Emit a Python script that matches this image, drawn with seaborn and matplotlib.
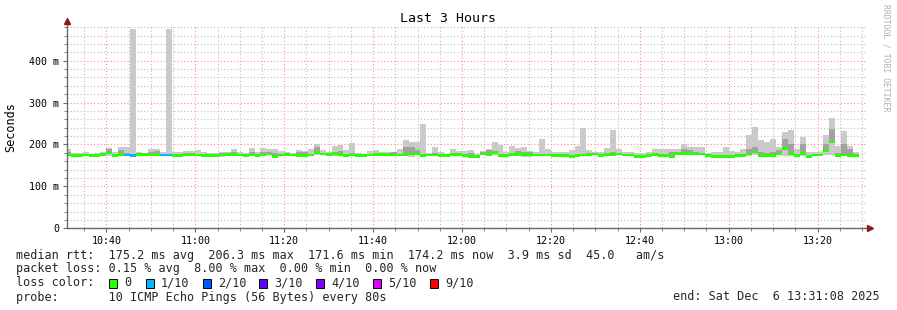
import numpy as np
import pandas as pd
import matplotlib
matplotlib.use("Agg")
import matplotlib.pyplot as plt
from matplotlib.patches import Rectangle
import seaborn as sns

# ---------------- data ----------------
title = "Last 3 Hours"
window_start = "10:31:08"
window_end = "13:31:08"
first_step = "10:30:40"
step_seconds = 80

median = [176, 173, 173, 175, 174, 174, 176, 180, 173, 176,
          175, 174, 176, 176, 175, 176, 175, 175, 173, 173,
          175, 176, 175, 174, 174, 173, 175, 176, 176, 175,
          174, 175, 174, 175, 177, 172, 175, 176, 175, 174,
          174, 175, 181, 177, 176, 178, 176, 174, 175, 173,
          174, 175, 176, 176, 176, 175, 175, 176, 177, 178,
          174, 175, 175, 174, 174, 176, 176, 174, 172, 171.6,
          177, 176, 181, 173, 173, 176, 176, 176, 176, 175,
          175, 175, 174, 174, 173, 172, 173, 175, 176, 177,
          173, 176, 176, 177, 175, 175, 172, 171.6, 174, 176,
          174, 173, 172, 178, 179, 179, 177, 177, 173, 172,
          172, 172, 171.6, 173, 174, 177, 182, 174, 174, 174,
          178, 190, 178, 174, 178, 172, 175, 175, 186, 206,
          174, 175, 174, 174.2]

smoke_low = [172, 171, 171, 172, 172, 172, 173, 172, 170, 173,
             173, 172, 173, 173, 172, 173, 173, 173, 171, 171,
             172, 173, 172, 172, 172, 171, 170, 173, 173, 172,
             172, 172, 172, 172, 174, 170, 172, 173, 172, 171,
             171, 172, 175, 174, 173, 172, 173, 171, 172, 170,
             171, 172, 173, 173, 173, 172, 172, 172, 171, 174,
             171, 172, 172, 171, 171, 173, 173, 171, 169, 169,
             174, 173, 176, 170, 170, 173, 173, 171, 171, 172,
             172, 172, 171, 171, 170, 169, 170, 172, 173, 174,
             170, 173, 173, 174, 172, 172, 170, 169, 171, 173,
             171, 170, 170, 174, 175, 175, 174, 174, 171, 170,
             170, 170, 169, 171, 172, 172, 174, 171, 171, 171,
             174, 172, 173, 171, 173, 170, 172, 172, 174, 174,
             171, 172, 171, 171]

smoke_top = [189, 179, 180, 181, 178, 179, 182, 192, 182, 195,
             193, 476, 181, 180, 189, 189, 182, 476, 182, 183,
             184, 184, 187, 182, 180, 179, 182, 183, 189, 181,
             180, 191, 181, 192, 190, 190, 184, 181, 180, 186,
             184, 190, 200, 186, 181, 197, 198, 188, 204, 179,
             177, 185, 186, 182, 182, 181, 190, 210, 205, 205,
             250, 179, 193, 181, 177, 190, 185, 185, 187, 177,
             184, 189, 207, 198, 182, 197, 192, 194, 185, 182,
             213, 189, 181, 182, 181, 186, 197, 239, 186, 183,
             181, 192, 234, 189, 181, 181, 179, 179, 181, 190,
             190, 190, 189, 189, 201, 195, 195, 195, 179, 181,
             182, 193, 185, 181, 189, 223, 241, 211, 205, 213,
             193, 229, 234, 189, 217, 183, 182, 183, 223, 262,
             197, 231, 197, 182]

smoke_mid = [183, 176, 175, 177, 176, 176, 178, 190, 176, 186,
             180, 178, 178, 178, 183, 184, 177, 178, 175, 175,
             180, 178, 177, 176, 176, 175, 179, 178, 182, 177,
             176, 182, 176, 183, 182, 180, 177, 178, 177, 181,
             181, 177, 193, 179, 178, 182, 184, 177, 179, 175,
             176, 177, 180, 178, 178, 182, 178, 193, 194, 188,
             177, 177, 180, 176, 176, 178, 178, 177, 180, 174,
             182, 186, 184, 177, 176, 179, 184, 182, 182, 177,
             178, 178, 176, 176, 175, 174, 176, 178, 178, 179,
             176, 178, 182, 179, 177, 177, 174, 174, 176, 178,
             177, 176, 182, 182, 189, 186, 182, 180, 175, 174,
             174, 176, 174, 175, 177, 189, 193, 182, 180, 181,
             186, 212, 200, 177, 200, 175, 177, 177, 200, 237,
             180, 200, 189, 178]

loss = [0] * 134
for _k in (10, 11, 16, 17):
    loss[_k] = 1

loss_labels = ["0", "1/10", "2/10", "3/10", "4/10", "5/10", "9/10"]
loss_colors = ["#26ff00", "#00b8ff", "#0059ff", "#5e00ff", "#7e00ff", "#dd00ff", "#ff0000"]

y_ticks = [0, 100, 200, 300, 400]
y_ticklabels = ["0", "100 m", "200 m", "300 m", "400 m"]
x_ticklabels = ["10:40", "11:00", "11:20", "11:40", "12:00", "12:20", "12:40", "13:00", "13:20"]

line_rtt = "median rtt:  175.2 ms avg  206.3 ms max  171.6 ms min  174.2 ms now  3.9 ms sd  45.0   am/s"
line_loss = "packet loss: 0.15 % avg  8.00 % max  0.00 % min  0.00 % now"
line_color = "loss color:"
line_probe = "probe:       10 ICMP Echo Pings (56 Bytes) every 80s"
line_end = "end: Sat Dec  6 13:31:08 2025"
watermark = "RRDTOOL / TOBI OETIKER"
ylabel = "Seconds"

# ---------------- helpers ----------------
def to_min(s):
    h, m, sec = (int(v) for v in s.split(":"))
    return h * 60 + m + sec / 60.0 - 600.0  # minutes after 10:00


n = len(median)
t_first = to_min(first_step)
edges = t_first + np.arange(n + 1) * step_seconds / 60.0
starts = edges[:-1]
width = step_seconds / 60.0

df = pd.DataFrame({"t": starts, "median": median, "low": smoke_low,
                   "top": smoke_top, "mid": smoke_mid, "loss": loss})
df["color"] = [loss_colors[l] for l in loss]

# ---------------- figure ----------------
sns.set_theme(style="white")
mono = "DejaVu Sans Mono"
plt.rcParams["font.family"] = [mono, "DejaVu Sans"]

W, H = 897, 310
fig = plt.figure(figsize=(W / 100, H / 100), dpi=100)
fig.patch.set_facecolor("white")
ax_left, ax_right, ax_bottom, ax_top = 67, 867, 228.3, 26.3
ax = fig.add_axes([ax_left / W, (H - ax_bottom) / H,
                   (ax_right - ax_left) / W, (ax_bottom - ax_top) / H])
ax.set_facecolor("white")

x0, x1 = to_min(window_start), to_min(window_end)

# grid
ax.set_yticks(y_ticks)
ax.set_yticklabels(y_ticklabels)
ax.set_yticks(np.arange(0, 481, 20), minor=True)
maj_x = [to_min(l + ":00") for l in x_ticklabels]
ax.set_xticks(maj_x)
ax.set_xticklabels(x_ticklabels)
ax.set_xticks(np.arange(35, 211, 5), minor=True)
ax.grid(which="minor", color="#bdbdbd", linestyle=(0, (1, 2)), linewidth=0.8)
ax.grid(which="major", color="#ff8c8c", linestyle=(0, (1, 2)), linewidth=0.8)
ax.set_axisbelow(True)

# smoke
ax.bar(df["t"], df["top"] - df["low"], bottom=df["low"], width=width,
       align="edge", color="#cacaca", linewidth=0, zorder=2)
ax.bar(df["t"], df["mid"] - df["median"], bottom=df["median"], width=width,
       align="edge", color="#a2a2a2", linewidth=0, zorder=2.5)

# median band (coloured by loss), one block per step like smokeping
band = 6.4
ax.bar(df["t"], band, bottom=df["median"] - band / 2, width=width,
       align="edge", color=df["color"], linewidth=0, zorder=3)

ax.set_xlim(x0, x1)
ax.set_ylim(0, 482)
ax.set_xlabel("")
ax.set_ylabel("")

# axes and ticks
sns.despine(ax=ax, left=True, bottom=True)
axis_col = "#6a6a6a"
ax.plot([0, 0], [0, 1.02], transform=ax.transAxes, color=axis_col, lw=1.0,
        clip_on=False, zorder=5)
ax.plot([0, 1.006], [0, 0], transform=ax.transAxes, color=axis_col, lw=1.0,
        clip_on=False, zorder=5)
ax.plot([0], [1.025], marker="^", markersize=4, color="#8b1a1a",
        transform=ax.transAxes, clip_on=False, zorder=6)
ax.plot([1.004], [0], marker=">", markersize=4, color="#8b1a1a",
        transform=ax.transAxes, clip_on=False, zorder=6)

ax.tick_params(which="major", direction="out", length=3, width=0.8,
               color=axis_col, labelsize=7.2, pad=2.6, labelcolor="black",
               left=True, bottom=True)
ax.tick_params(which="minor", direction="out", length=2, width=0.6,
               color=axis_col, left=True, bottom=True)
for lab in ax.get_xticklabels() + ax.get_yticklabels():
    lab.set_fontfamily(mono)

# texts
fs = 8.45
fig.text(448 / W, 1 - 19 / H, title, ha="center", va="center", fontsize=9.5,
         family=mono, color="black")
fig.text(11 / W, 1 - 127 / H, ylabel, ha="center", va="center", rotation=90,
         fontsize=fs, family=mono, color="black")
fig.text(886 / W, 1 - 4 / H, watermark, ha="center", va="top", rotation=270,
         fontsize=5.9, family=mono, color="#b0b0b0")

rows_y = [255, 268.5, 283, 297]
fig.text(16 / W, 1 - rows_y[0] / H, line_rtt, ha="left", va="center",
         fontsize=fs, family=mono)
fig.text(16 / W, 1 - rows_y[1] / H, line_loss, ha="left", va="center",
         fontsize=fs, family=mono)
fig.text(16 / W, 1 - rows_y[2] / H, line_color, ha="left", va="center",
         fontsize=fs, family=mono)
box_x = [109, 146, 203, 259, 316, 373, 430]
for bx, lab, col in zip(box_x, loss_labels, loss_colors):
    fig.add_artist(Rectangle((bx / W, 1 - (rows_y[2] + 4.5) / H), 8 / W, 9 / H,
                             transform=fig.transFigure, facecolor=col,
                             edgecolor="black", linewidth=0.7))
    fig.text((bx + 15) / W, 1 - rows_y[2] / H, lab, ha="left", va="center",
             fontsize=fs, family=mono)
fig.text(16 / W, 1 - rows_y[3] / H, line_probe, ha="left", va="center",
         fontsize=fs, family=mono)
fig.text(880 / W, 1 - rows_y[3] / H, line_end, ha="right", va="center",
         fontsize=fs, family=mono)

fig.savefig("out.png", dpi=100, facecolor="white")
